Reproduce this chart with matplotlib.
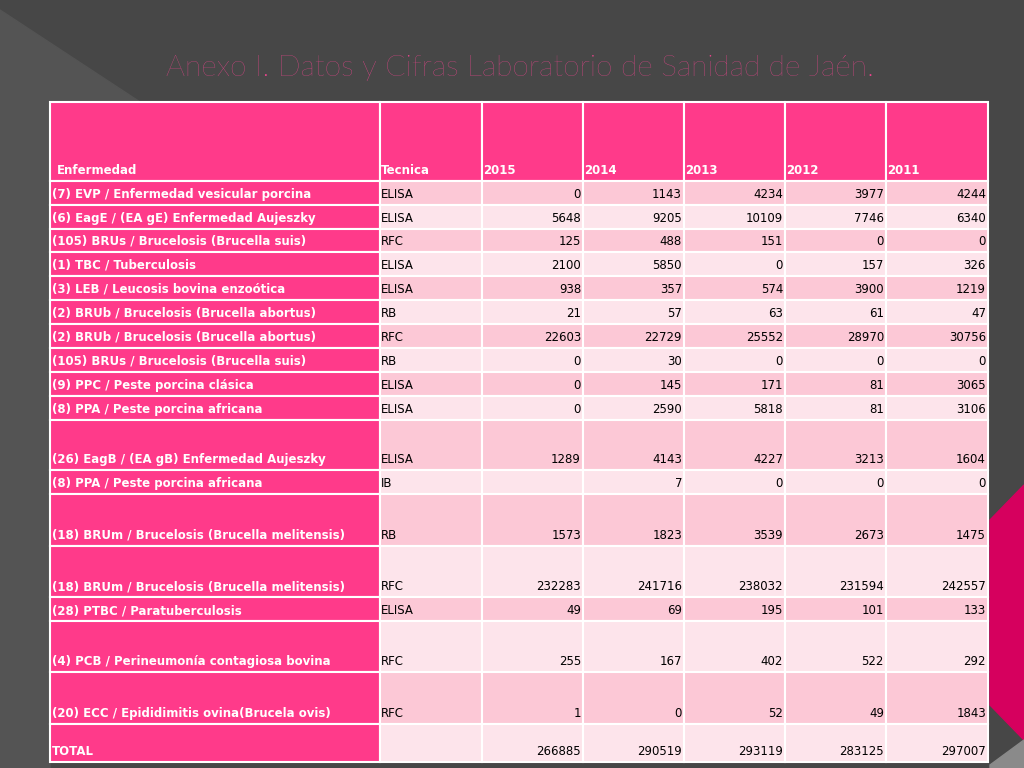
import matplotlib.pyplot as plt
from matplotlib.patches import Rectangle, Polygon

# --- data ----------------------------------------------------------------
YEARS = ["2015", "2014", "2013", "2012", "2011"]
DISEASES = [
    "(7) EVP / Enfermedad vesicular porcina",
    "(6) EagE / (EA gE) Enfermedad Aujeszky",
    "(105) BRUs / Brucelosis (Brucella suis)",
    "(1) TBC / Tuberculosis",
    "(3) LEB / Leucosis bovina enzoótica",
    "(2) BRUb / Brucelosis (Brucella abortus)",
    "(2) BRUb / Brucelosis (Brucella abortus)",
    "(105) BRUs / Brucelosis (Brucella suis)",
    "(9) PPC / Peste porcina clásica",
    "(8) PPA / Peste porcina africana",
    "(26) EagB / (EA gB) Enfermedad Aujeszky",
    "(8) PPA / Peste porcina africana",
    "(18) BRUm / Brucelosis (Brucella melitensis)",
    "(18) BRUm / Brucelosis (Brucella melitensis)",
    "(28) PTBC / Paratuberculosis",
    "(4) PCB / Perineumonía contagiosa bovina",
    "(20) ECC / Epididimitis ovina(Brucela ovis)",
    "TOTAL",
]
TECHNIQUES = ["ELISA", "ELISA", "RFC", "ELISA", "ELISA", "RB", "RFC", "RB",
              "ELISA", "ELISA", "ELISA", "IB", "RB", "RFC", "ELISA", "RFC",
              "RFC", ""]
V2015 = [0, 5648, 125, 2100, 938, 21, 22603, 0, 0, 0, 1289, None, 1573,
         232283, 49, 255, 1, 266885]
V2014 = [1143, 9205, 488, 5850, 357, 57, 22729, 30, 145, 2590, 4143, 7, 1823,
         241716, 69, 167, 0, 290519]
V2013 = [4234, 10109, 151, 0, 574, 63, 25552, 0, 171, 5818, 4227, 0, 3539,
         238032, 195, 402, 52, 293119]
V2012 = [3977, 7746, 0, 157, 3900, 61, 28970, 0, 81, 81, 3213, 0, 2673,
         231594, 101, 522, 49, 283125]
V2011 = [4244, 6340, 0, 326, 1219, 47, 30756, 0, 3065, 3106, 1604, 0, 1475,
         242557, 133, 292, 1843, 297007]

# --- layout (pixels) -----------------------------------------------------
COL_EDGES = [50, 380, 482, 583, 684, 785, 886, 988]
HEADER = (102, 181)
ROW_EDGES = [181, 205, 229, 252, 276, 300, 324, 348, 372, 396, 420, 470,
             494, 546, 597, 621, 672, 724, 762]

PINK = "#ff3a8a"
DARK = "#fcc8d6"
LIGHT = "#fde4eb"
BG = "#474747"

fig = plt.figure(figsize=(10.24, 7.68), dpi=100)
fig.patch.set_facecolor(BG)
ax = fig.add_axes([0, 0, 1, 1])
ax.set_xlim(0, 1024)
ax.set_ylim(768, 0)
ax.axis("off")

# background decorations
ax.add_patch(Polygon([(0, 10), (140, 102), (50, 102), (50, 768), (0, 768)],
                     closed=True, color="#545454", zorder=0))
ax.add_patch(Polygon([(990, 520), (1024, 485), (1024, 740), (990, 705)],
                     closed=True, color="#d6005e", zorder=0))
ax.add_patch(Polygon([(990, 765), (1024, 740), (1024, 768), (990, 768)],
                     closed=True, color="#8a8a8a", zorder=0))

ax.text(166, 68, "Anexo I. Datos y Cifras Laboratorio de Sanidad de Jaén.",
        fontsize=21.5, color="#f0458f", family="Lato", fontweight="light",
        va="center", ha="left")

# header row
headers = ["Enfermedad", "Tecnica"] + YEARS
for j, h in enumerate(headers):
    x0, x1 = COL_EDGES[j], COL_EDGES[j + 1]
    ax.add_patch(Rectangle((x0, HEADER[0]), x1 - x0, HEADER[1] - HEADER[0],
                           facecolor=PINK, edgecolor="white", lw=1.5))
    ax.text(x0 + (7 if j == 0 else 1), HEADER[1] - 4, h, fontsize=8.5,
            color="white", fontweight="bold", va="bottom", ha="left")

columns = [V2015, V2014, V2013, V2012, V2011]
for i, name in enumerate(DISEASES):
    y0, y1 = ROW_EDGES[i], ROW_EDGES[i + 1]
    fill = DARK if i % 2 == 0 else LIGHT
    ax.add_patch(Rectangle((COL_EDGES[0], y0), COL_EDGES[1] - COL_EDGES[0],
                           y1 - y0, facecolor=PINK, edgecolor="white", lw=1.5))
    ax.text(COL_EDGES[0] + 2, y1 - 4, name, fontsize=8.5, color="white",
            fontweight="bold", va="bottom", ha="left")
    ax.add_patch(Rectangle((COL_EDGES[1], y0), COL_EDGES[2] - COL_EDGES[1],
                           y1 - y0, facecolor=fill, edgecolor="white", lw=1.5))
    ax.text(COL_EDGES[1] + 1, y1 - 4, TECHNIQUES[i], fontsize=8.5,
            color="black", va="bottom", ha="left")
    for j, col in enumerate(columns):
        x0, x1 = COL_EDGES[j + 2], COL_EDGES[j + 3]
        ax.add_patch(Rectangle((x0, y0), x1 - x0, y1 - y0, facecolor=fill,
                               edgecolor="white", lw=1.5))
        if col[i] is not None:
            ax.text(x1 - 2, y1 - 4, str(col[i]), fontsize=8.5,
                    color="black", va="bottom", ha="right")

fig.savefig("out.png", dpi=100, facecolor=BG)
